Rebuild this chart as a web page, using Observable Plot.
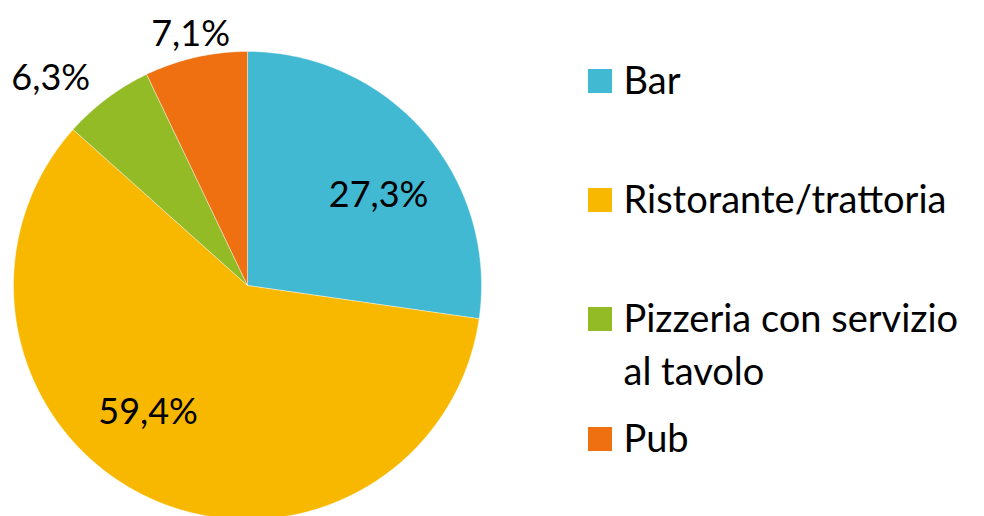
<!DOCTYPE html>
<html><head><meta charset="utf-8">
<script src="https://cdn.jsdelivr.net/npm/d3@7"></script>
<script src="https://cdn.jsdelivr.net/npm/@observablehq/plot@0.6"></script>
<style>body{margin:0;background:#fff;} svg{display:block;}</style>
</head><body><div id="chart"></div>
<script>
const categories = ["Bar", "Ristorante/trattoria", "Pizzeria con servizio\nal tavolo", "Pub"];
const values = [27.3, 59.4, 6.3, 7.1];
const labels = ["27,3%", "59,4%", "6,3%", "7,1%"];
const colors = ["#41B9D3", "#F9B800", "#92BB25", "#EE7010"];

// layout
const W = 984, H = 516;
const cx = 247, cy = 285, R = 234;
// label placement: radius factor and angle nudge (degrees)
const labelRadius = [0.68, 0.69, 1.22, 1.1];
const labelAngleShift = [6.4, 13, -6.7, 0];

const pie = d3.pie().sort(null).value(d => d)(values);
const wedges = [];
pie.forEach((p, i) => {
  const n = Math.max(8, Math.ceil((p.endAngle - p.startAngle) / 0.01));
  wedges.push({i, x: cx, y: cy});
  for (let k = 0; k <= n; k++) {
    const a = p.startAngle + (p.endAngle - p.startAngle) * k / n;
    wedges.push({i, x: cx + R * Math.sin(a), y: cy - R * Math.cos(a)});
  }
  wedges.push({i, x: cx, y: cy});
});
const labelData = pie.map((p, i) => {
  const a = (p.startAngle + p.endAngle) / 2 + labelAngleShift[i] * Math.PI / 180;
  const r = R * labelRadius[i];
  return {text: labels[i], x: cx + r * Math.sin(a), y: cy - r * Math.cos(a)};
});
const legendY = [81, 200, 319, 439];
const legend = categories.map((c, i) => ({c, i, y: legendY[i]}));

const font = "Lato, 'Open Sans', sans-serif";
const chart = Plot.plot({
  width: W, height: H, margin: 0,
  x: {type: "identity", axis: null}, y: {type: "identity", axis: null},
  style: {fontFamily: font, background: "#fff"},
  marks: [
    Plot.line(wedges, {x: "x", y: "y", z: "i", fill: d => colors[d.i], stroke: "#fff", strokeWidth: 0.4, curve: "linear"}),
    Plot.text(labelData, {x: "x", y: "y", text: "text", fontSize: 36, fill: "#000", textAnchor: "middle"}),
    Plot.rect(legend, {x1: () => 588, x2: () => 612, y1: d => d.y - 12, y2: d => d.y + 12, fill: d => colors[d.i]}),
    Plot.text(legend, {x: () => 623, y: "y", text: "c", fontSize: 38, textAnchor: "start", lineAnchor: "top", dy: -25, lineHeight: 1.39, letterSpacing: 1.4, fill: "#000"})
  ]
});
document.getElementById("chart").append(chart);
</script></body></html>
